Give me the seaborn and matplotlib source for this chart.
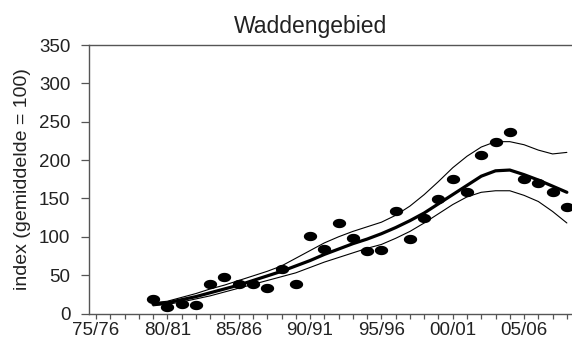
import numpy as np
import pandas as pd
import matplotlib
matplotlib.use("Agg")
import matplotlib.pyplot as plt
from matplotlib.ticker import MultipleLocator
import seaborn as sns

# seasons start year (1979 = 79/80)
years = list(range(1979, 2009))

index_obs = [19, 8, 13, 11, 39, 47, 38, 39, 33, 58,
             38, 101, 84, 118, 99, 82, 83, 133, 97, 125,
             149, 175, 158, 206, 224, 236, 175, 170, 158, 139]

trend = [12, 14, 18, 22, 27, 32, 37, 43, 49, 55,
         62, 69, 77, 84, 91, 97, 104, 112, 121, 131,
         143, 155, 167, 179, 186, 187, 181, 174, 166, 158]

upper = [14, 16, 21, 26, 32, 37, 43, 49, 55, 62,
         72, 82, 92, 100, 107, 113, 119, 128, 140, 155,
         172, 190, 205, 217, 224, 224, 220, 213, 208, 210]

lower = [10, 12, 15, 19, 23, 28, 33, 38, 43, 48,
         53, 60, 67, 73, 79, 85, 90, 98, 107, 118,
         130, 142, 152, 158, 160, 160, 154, 146, 133, 118]

tick_years = [1975, 1980, 1985, 1990, 1995, 2000, 2005]
tick_labels = ["75/76", "80/81", "85/86", "90/91", "95/96", "00/01", "05/06"]

df = pd.DataFrame({"jaar": years, "index": index_obs,
                   "trend": trend, "upper": upper, "lower": lower})

sns.set_style("ticks")
plt.rcParams["font.family"] = ["Liberation Sans", "DejaVu Sans"]

fig = plt.figure(figsize=(5.72, 3.4), dpi=100)
ax = fig.add_axes([88.9 / 572, 1 - 313.5 / 340, (574 - 88.9) / 572, (313.5 - 45) / 340])

sns.lineplot(data=df, x="jaar", y="upper", color="black", lw=0.8, ax=ax)
sns.lineplot(data=df, x="jaar", y="lower", color="black", lw=0.8, ax=ax)
sns.lineplot(data=df, x="jaar", y="trend", color="black", lw=2.3, ax=ax)

t = np.linspace(0, 2 * np.pi, 40)
ellipse = np.column_stack([np.cos(t), 0.7 * np.sin(t)])
sns.scatterplot(data=df, x="jaar", y="index", marker=ellipse, s=92,
                color="black", edgecolor="black", linewidth=0, ax=ax, zorder=5)

ax.set_xlim(1974.5, 2008.5)
ax.set_ylim(0, 350)
ax.set_yticks(range(0, 351, 50))
ax.set_xticks(tick_years)
ax.set_xticklabels(tick_labels)
ax.xaxis.set_minor_locator(MultipleLocator(1))
ax.tick_params(axis="both", which="both", direction="out",
               width=0.9, color="#555555", labelsize=13.5, labelcolor="#222222")
ax.tick_params(axis="x", which="both", length=3.8, pad=2.5)
ax.tick_params(axis="y", length=5.8, pad=7.5)
ax.set_xlabel("")
ax.set_ylabel("index (gemiddelde = 100)", fontsize=14, color="#222222", labelpad=6)

for side in ["left", "bottom", "top"]:
    ax.spines[side].set_color("#555555")
    ax.spines[side].set_linewidth(1.0)
ax.spines["right"].set_visible(False)

fig.text(311 / 572, 1 - 33 / 340, "Waddengebied", ha="center", va="baseline",
         fontsize=16.5, color="#222222")

fig.savefig("out.png", dpi=100)
